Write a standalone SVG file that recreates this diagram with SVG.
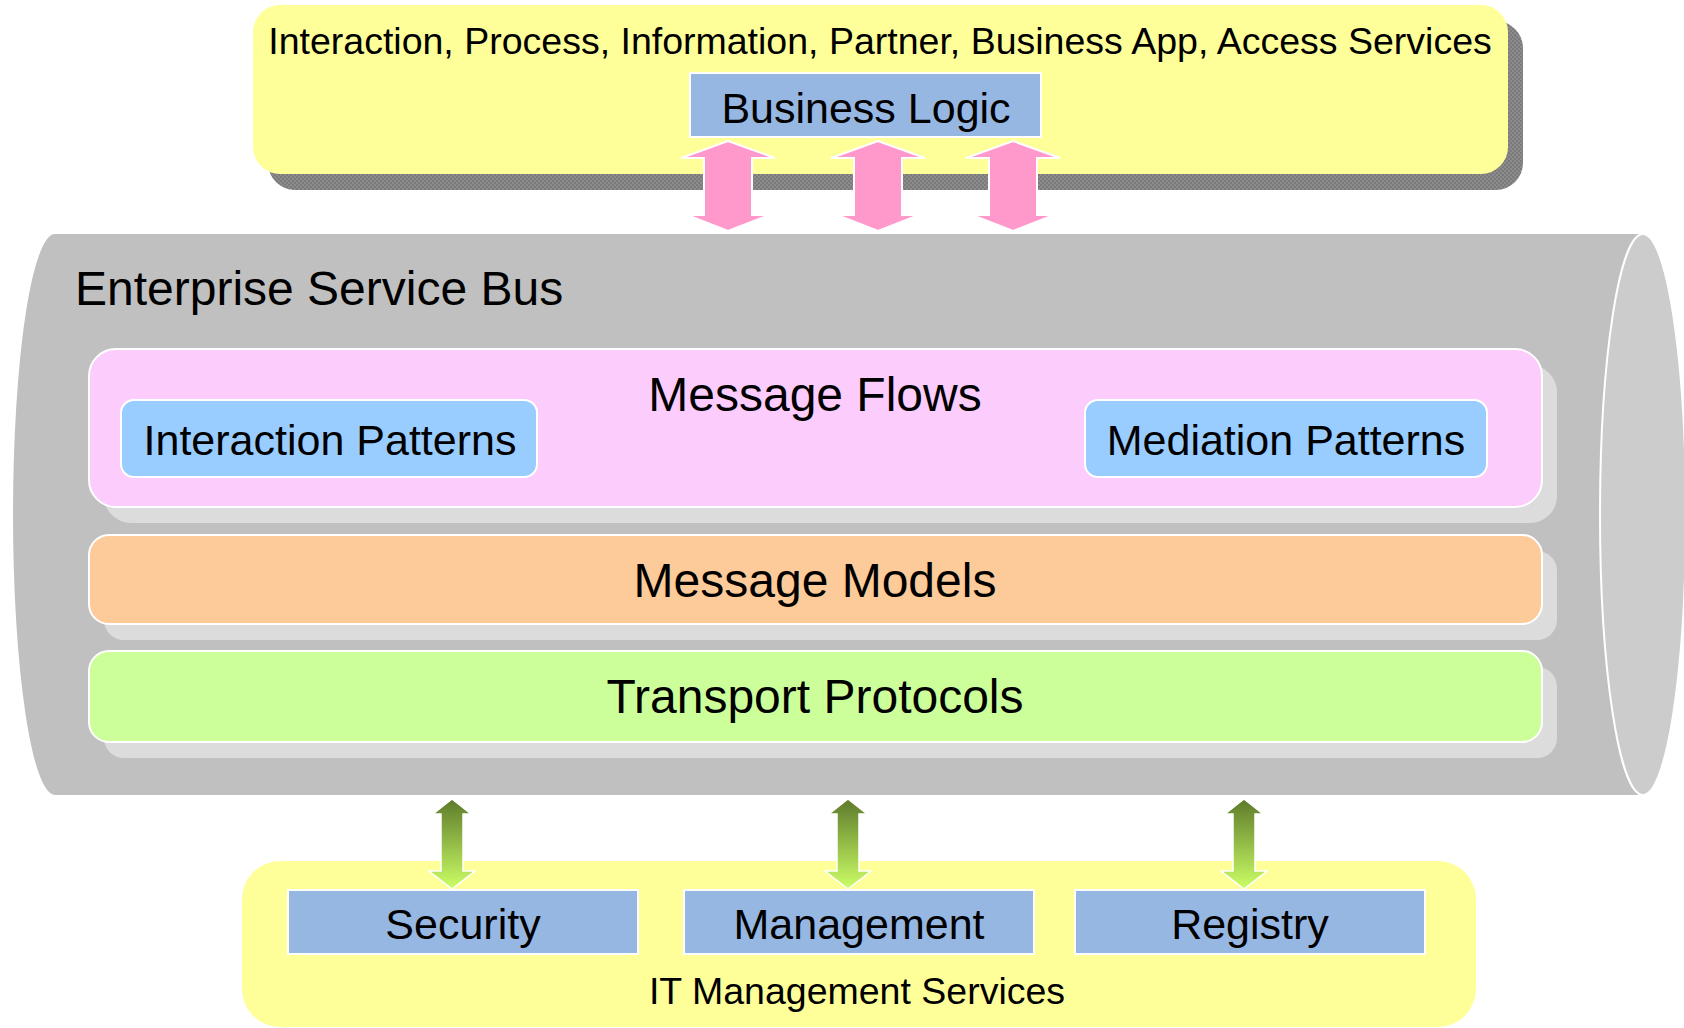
<svg xmlns="http://www.w3.org/2000/svg" width="1684" height="1028" viewBox="0 0 1684 1028">
<defs>
<style>
text{font-family:"Liberation Sans",Arial,sans-serif;fill:#000;}
.big{font-size:48px;}
.mid{font-size:43px;}
.small{font-size:37.5px;}
.blue{fill:#97b7e3;stroke:#fff;stroke-width:2;}
.pat{fill:#99ccff;stroke:#fff;stroke-width:2;}
.yel{fill:#ffff99;}
.lshadow{fill:#dcdcdc;}
.pink{fill:#ff99cc;stroke:#fff;stroke-width:2;}
.green{fill:url(#gg);stroke:#fff;stroke-width:1.5;}
</style>
<linearGradient id="gg" x1="0" y1="0" x2="0" y2="1">
<stop offset="0" stop-color="#5d7a2a"/>
<stop offset="1" stop-color="#ccff66"/>
</linearGradient>
<pattern id="hatch" width="4" height="4" patternUnits="userSpaceOnUse">
<rect width="4" height="4" fill="#8c8c8c"/>
<rect width="2" height="2" fill="#7a7a7a"/>
<rect x="2" y="2" width="2" height="2" fill="#7a7a7a"/>
</pattern>
</defs>

<g id="business-services">
<rect x="268" y="21" width="1255" height="169" rx="27" fill="url(#hatch)"/>
<rect class="yel" x="253" y="5" width="1255" height="169" rx="27"/>
<text class="small" x="880" y="54" text-anchor="middle">Interaction, Process, Information, Partner, Business App, Access Services</text>
</g>

<g id="business-logic">
<rect class="blue" x="690" y="73" width="351" height="64"/>
<text class="mid" x="866" y="123" text-anchor="middle">Business Logic</text>
</g>

<g id="esb">
<path d="M1643 234 L55 234 A42 280.5 0 0 0 55 795 L1643 795 Z" fill="#c0c0c0"/>
<ellipse cx="1643" cy="514.5" rx="43" ry="280.5" fill="#cccccc" stroke="#fff" stroke-width="2"/>
<text class="big" x="75" y="305">Enterprise Service Bus</text>
</g>

<g id="message-flows">
<rect class="lshadow" x="104" y="365" width="1453" height="158" rx="27"/>
<rect x="89" y="349" width="1453" height="158" rx="27" fill="#fccdfc" stroke="#fff" stroke-width="2"/>
<text class="big" x="815" y="411" text-anchor="middle">Message Flows</text>
</g>

<g id="interaction-patterns">
<rect class="pat" x="121" y="400" width="416" height="77" rx="13"/>
<text class="mid" x="330" y="455" text-anchor="middle">Interaction Patterns</text>
</g>

<g id="mediation-patterns">
<rect class="pat" x="1085" y="400" width="402" height="77" rx="13"/>
<text class="mid" x="1286" y="455" text-anchor="middle">Mediation Patterns</text>
</g>

<g id="message-models">
<rect class="lshadow" x="104" y="551" width="1453" height="89" rx="20"/>
<rect x="89" y="535" width="1453" height="89" rx="20" fill="#fdca9a" stroke="#fff" stroke-width="2"/>
<text class="big" x="815" y="597" text-anchor="middle">Message Models</text>
</g>

<g id="transport-protocols">
<rect class="lshadow" x="104" y="667" width="1453" height="91" rx="20"/>
<rect x="89" y="651" width="1453" height="91" rx="20" fill="#ccff99" stroke="#fff" stroke-width="2"/>
<text class="big" x="815" y="713" text-anchor="middle">Transport Protocols</text>
</g>

<g id="it-management-services">
<rect class="yel" x="242" y="861" width="1234" height="166" rx="38"/>
<text class="small" x="857" y="1004" text-anchor="middle">IT Management Services</text>
</g>

<g id="security">
<rect class="blue" x="288" y="890" width="350" height="64"/>
<text class="mid" x="463" y="939" text-anchor="middle">Security</text>
</g>

<g id="management">
<rect class="blue" x="684" y="890" width="350" height="64"/>
<text class="mid" x="859" y="939" text-anchor="middle">Management</text>
</g>

<g id="registry">
<rect class="blue" x="1075" y="890" width="350" height="64"/>
<text class="mid" x="1250" y="939" text-anchor="middle">Registry</text>
</g>

<g id="connectors">
<path class="pink" d="M728 141 L775 158 L752 158 L752 215 L769 215 L728 231 L687 215 L704 215 L704 158 L681 158 Z"/>
<path class="pink" d="M878 141 L925 158 L902 158 L902 215 L919 215 L878 231 L837 215 L854 215 L854 158 L831 158 Z"/>
<path class="pink" d="M1013 141 L1060 158 L1037 158 L1037 215 L1054 215 L1013 231 L972 215 L989 215 L989 158 L966 158 Z"/>
<path class="green" d="M452 799 L471 814 L463 814 L463 871 L475 871 L452 889 L429 871 L441 871 L441 814 L433 814 Z"/>
<path class="green" d="M848 799 L867 814 L859 814 L859 871 L871 871 L848 889 L825 871 L837 871 L837 814 L829 814 Z"/>
<path class="green" d="M1244 799 L1263 814 L1255 814 L1255 871 L1267 871 L1244 889 L1221 871 L1233 871 L1233 814 L1225 814 Z"/>
</g>
</svg>
